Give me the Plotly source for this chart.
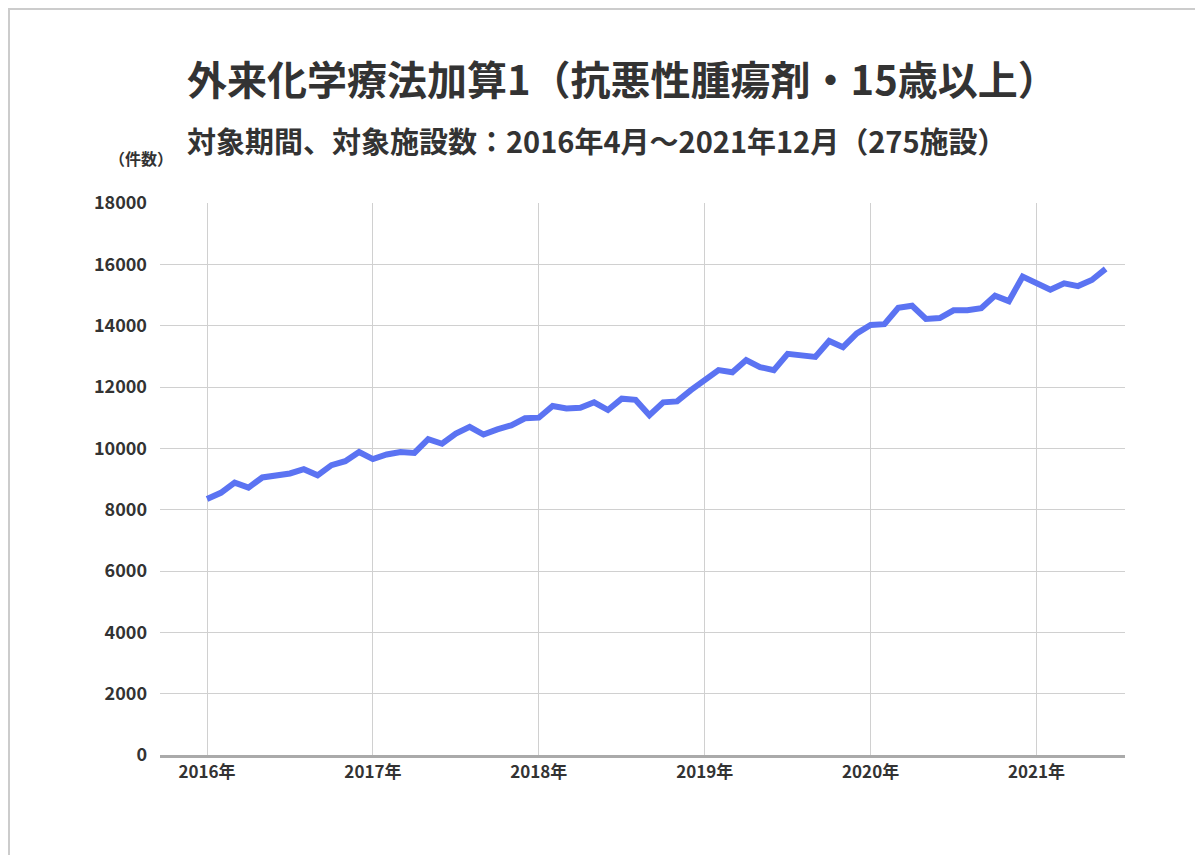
import plotly.graph_objects as go

# monthly counts starting 2016/4
counts = [8350, 8550, 8880, 8720, 9050, 9100, 9180, 9320, 9120, 9450, 9580, 9880,
          9650, 9800, 9880, 9850, 10300, 10150, 10480, 10700, 10450, 10620, 10750, 10980,
          11000, 11380, 11300, 11320, 11500, 11250, 11620, 11580, 11080, 11500, 11530, 11900,
          12220, 12550, 12480, 12880, 12650, 12550, 13080, 13020, 12980, 13500, 13300, 13750,
          14020, 14050, 14580, 14650, 14220, 14250, 14500, 14500, 14570, 14980, 14800, 15600,
          15380, 15170, 15380, 15290, 15490, 15850]
months = list(range(len(counts)))
tick_pos = [0, 12, 24, 36, 48, 60]
tick_labels = ["<b>2016年</b>", "<b>2017年</b>", "<b>2018年</b>", "<b>2019年</b>",
               "<b>2020年</b>", "<b>2021年</b>"]
y_ticks = list(range(0, 18001, 2000))
y_labels = ["<b>%d</b>" % v for v in y_ticks]

font = "Noto Sans CJK JP"
PW, PH = 965, 552  # plot area in px

fig = go.Figure(go.Scatter(x=months, y=counts, mode="lines",
                           line=dict(color="#5B73F2", width=6)))

fig.update_layout(
    width=1203, height=855,
    margin=dict(l=152, r=86, t=195, b=108),
    plot_bgcolor="white", paper_bgcolor="white",
    showlegend=False,
    font=dict(family=font, size=17, color="#333"),
)
fig.update_xaxes(range=[-3.4, 66.4], tickvals=tick_pos, ticktext=tick_labels,
                 showgrid=True, gridcolor="#d0d0d0", zeroline=False,
                 showline=True, linecolor="#aaa", linewidth=3,
                 tickfont=dict(family=font, size=17, color="#333"))
fig.update_yaxes(range=[0, 18000], tickvals=y_ticks, ticktext=y_labels,
                 showgrid=True, gridcolor="#d0d0d0",
                 zeroline=False, ticks="", ticklabelstandoff=12,
                 tickfont=dict(family=font, size=18, color="#333"))

fig.add_annotation(text="<b>外来化学療法加算1（抗悪性腫瘍剤・15歳以上）</b>",
                   x=25 / PW, xanchor="left", y=1 + (203 - 78) / PH, yanchor="middle",
                   xref="paper", yref="paper", showarrow=False,
                   font=dict(family=font, size=40, color="#333"))
fig.add_annotation(text="<b>対象期間、対象施設数：2016年4月～2021年12月（275施設）</b>",
                   x=25 / PW, xanchor="left", y=1 + (203 - 140) / PH, yanchor="middle",
                   xref="paper", yref="paper",
                   showarrow=False, font=dict(family=font, size=29, color="#333"))
fig.add_annotation(text="<b>（件数）</b>", x=-0.055, y=1 + (203 - 158) / PH, yanchor="middle",
                   xref="paper", yref="paper", showarrow=False,
                   font=dict(family=font, size=16, color="#333"))
fig.add_shape(type="rect", xref="paper", yref="paper",
              x0=-151 / PW, x1=1 + 84 / PW, y0=-106 / PH, y1=1 + 194 / PH,
              line=dict(color="#ccc", width=2))

fig.write_html("out.html")
